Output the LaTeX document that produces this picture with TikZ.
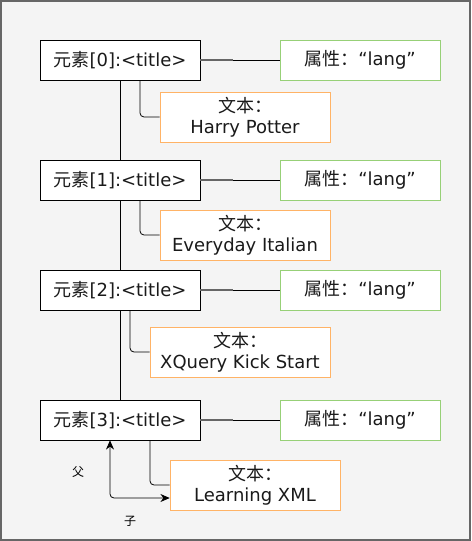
\documentclass[tikz,border=0pt]{standalone}
\usepackage{fontspec}
\setmainfont{DejaVu Sans}
\newfontfamily\cjk{Noto Sans CJK SC}
\usetikzlibrary{arrows.meta,calc}

\definecolor{bgfill}{HTML}{F4F4F4}
\definecolor{frameline}{HTML}{666666}
\definecolor{attrline}{HTML}{97D077}
\definecolor{textline}{HTML}{FFB366}
\definecolor{inkcol}{HTML}{1A1A1A}

\tikzset{
  elembox/.style={draw=black,fill=white,text=inkcol,minimum width=160*0.75pt,minimum height=40*0.75pt,inner sep=0pt,font=\fontsize{13.5}{16}\selectfont},
  attrbox/.style={draw=attrline,fill=white,text=inkcol,minimum width=160*0.75pt,minimum height=40*0.75pt,inner sep=0pt,font=\fontsize{13.5}{16}\selectfont},
  textbox/.style={draw=textline,fill=white,text=inkcol,minimum height=50*0.75pt,inner sep=0pt,align=center,font=\fontsize{13.5}{15.5}\selectfont},
  link/.style={draw=black,line width=0.6pt,rounded corners=3pt},
  smalllabel/.style={font=\cjk\fontsize{9}{11}\selectfont,inner sep=0.75pt}
}

\begin{document}
\begin{tikzpicture}[x=0.75pt,y=0.75pt,yscale=-1,xscale=1]
% frame
\fill[bgfill] (0,0) rectangle (471,541);
\draw[frameline,line width=1.1pt] (1,1) rectangle (470,540);

% element nodes
\node[elembox] (elem0) at (120,60) {{\cjk 元素}[0]:<title>};
\node[elembox] (elem1) at (120,180) {{\cjk 元素}[1]:<title>};
\node[elembox] (elem2) at (120,290) {{\cjk 元素}[2]:<title>};
\node[elembox] (elem3) at (120,420) {{\cjk 元素}[3]:<title>};

% attribute nodes
\node[attrbox] (attr0) at (360,60) {{\cjk 属性：}“lang”};
\node[attrbox] (attr1) at (360,180) {{\cjk 属性：}“lang”};
\node[attrbox] (attr2) at (360,290) {{\cjk 属性：}“lang”};
\node[attrbox] (attr3) at (360,420) {{\cjk 属性：}“lang”};

% text nodes
\node[textbox,minimum width=170*0.75pt] (txt0) at (245,117) {{\cjk 文本：}\\Harry Potter};
\node[textbox,minimum width=170*0.75pt] (txt1) at (245,235) {{\cjk 文本：}\\Everyday Italian};
\node[textbox,minimum width=180*0.75pt] (txt2) at (240,352) {{\cjk 文本：}\\XQuery Kick Start};
\node[textbox,minimum width=170*0.75pt] (txt3) at (255,485) {{\cjk 文本：}\\Learning XML};

% spine
\draw[link] (elem0.south) -- (elem1.north);
\draw[link] (elem1.south) -- (elem2.north);
\draw[link] (elem2.south) -- (elem3.north);

% element -> attribute
\foreach \i in {0,1,2,3}{
  \draw[frameline,line width=1.2pt] (elem\i.east) -- ($(elem\i.east)+(33,0)$) coordinate (mid\i);
  \draw[link] (mid\i) -- (attr\i.west);
}

% element -> text
\draw[link] ($(elem0.south)+(20,0)$) |- (txt0.west);
\draw[link] ($(elem1.south)+(20,0)$) |- (txt1.west);
\draw[link] ($(elem2.south)+(10,0)$) |- (txt2.west);
\draw[link] ($(elem3.south)+(30,0)$) |- (txt3.west);

% parent / child
\draw[link,{Stealth[length=7pt,width=6pt]}-{Stealth[length=7pt,width=6pt]}] ($(elem3.south)+(-10,0)$) |- ($(txt3.west)+(0,13)$);
\node[smalllabel] (parent) at (78,472) {父};
\node[smalllabel] (child) at (130,521) {子};

\end{tikzpicture}
\end{document}
